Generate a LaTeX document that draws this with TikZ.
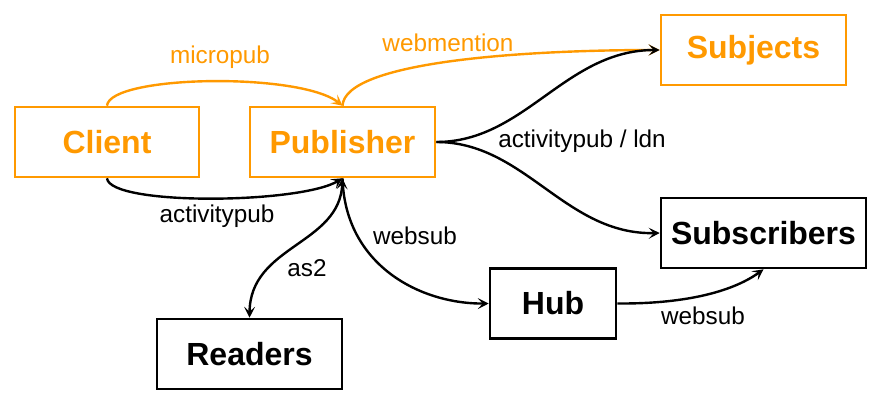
\documentclass[tikz,border=0pt]{standalone}
\usepackage{fontspec}
\setmainfont{Liberation Sans}
\usetikzlibrary{arrows.meta}
\definecolor{accent}{HTML}{FF9900}
\begin{document}
\begin{tikzpicture}[x=1pt,y=-1pt,
  box/.style={draw, line width=2.6pt, minimum height=70pt, inner sep=0pt,
    font=\fontsize{32}{37}\selectfont\bfseries},
  hot/.style={draw=accent, text=accent},
  lbl/.style={font=\fontsize{24.3}{29}\selectfont, inner sep=0pt},
  link/.style={line width=2.4pt, -{Stealth[length=11pt,width=11pt,inset=5pt]}},
  both/.style={line width=2.4pt, {Stealth[length=11pt,width=11pt,inset=5pt]}-{Stealth[length=11pt,width=11pt,inset=5pt]}}
]
\useasboundingbox (0,0) rectangle (883,409);

% boxes
\node[box, hot, minimum width=184pt] (client) at (107,142) {Client};
\node[box, hot, minimum width=185pt] (pub) at (342.5,142) {Publisher};
\node[box, hot, minimum width=185pt] (subj) at (753.5,50) {Subjects};
\node[box, minimum width=205pt] (subs) at (763.5,233) {Subscribers};
\node[box, minimum width=126pt] (hub) at (553,303.5) {Hub};
\node[box, minimum width=185pt] (readers) at (249.5,354) {Readers};

% connectors
\draw[link, accent] (client.north) .. controls (110,75) and (300,72) .. (pub.north);
\draw[link, accent] (pub.north) .. controls (345,62) and (520,50) .. (subj.west);
\draw[link] (client.south) .. controls (110,206) and (300,204) .. (pub.south);
\draw[link] (pub.east) .. controls (525,142) and (565,50) .. (subj.west);
\draw[link] (pub.east) .. controls (525,142) and (565,235) .. (subs.west);
\draw[both] (pub.south) .. controls (340,245) and (250,245) .. (readers.north);
\draw[link] (pub.south) .. controls (345,265) and (420,304) .. (hub.west);
\draw[link] (hub.east) .. controls (690,304) and (735,290) .. (subs.south);

% connector labels
\node[lbl, text=accent] (lmicro) at (220,57) {micropub};
\node[lbl, text=accent] (lwebm) at (448,43) {webmention};
\node[lbl] (lap) at (217,216) {activitypub};
\node[lbl] (lapl) at (582,141) {activitypub / ldn};
\node[lbl] (las) at (307,268) {as2};
\node[lbl] (lws) at (415,236) {websub};
\node[lbl] (lws2) at (703,316) {websub};
\end{tikzpicture}
\end{document}
